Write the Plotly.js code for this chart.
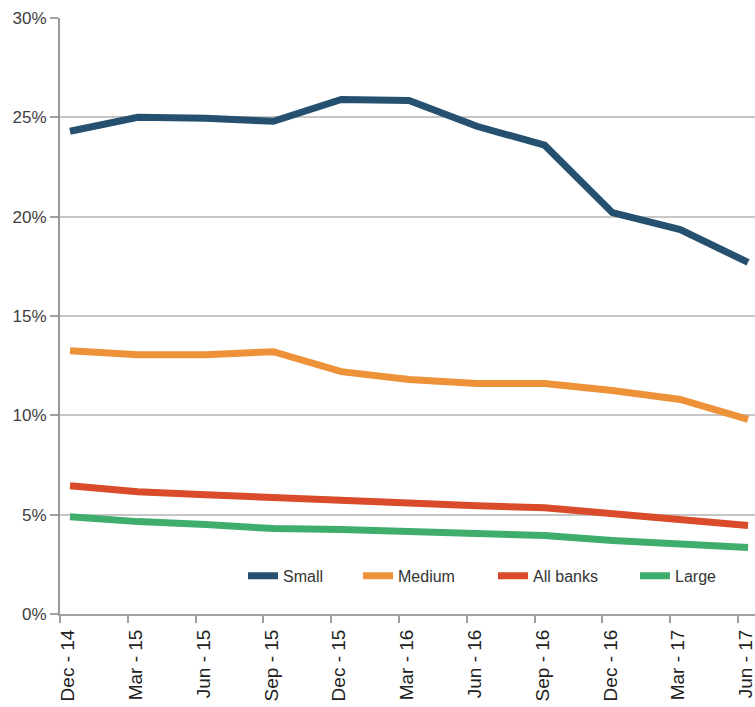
<!DOCTYPE html>
<html>
<head>
<meta charset="utf-8">
<script src="https://cdn.plot.ly/plotly-3.0.1.min.js"></script>
<style>html,body{margin:0;padding:0;background:#fff;}#chart{width:755px;height:707px;}</style>
</head>
<body>
<div id="chart"></div>
<script>
var categories = ["Dec - 14","Mar - 15","Jun - 15","Sep - 15","Dec - 15","Mar - 16","Jun - 16","Sep - 16","Dec - 16","Mar - 17","Jun - 17"];
var small    = [24.3, 25.0, 24.95, 24.8, 25.9, 25.85, 24.55, 23.6, 20.2, 19.35, 17.7];
var medium   = [13.25, 13.05, 13.05, 13.2, 12.2, 11.8, 11.6, 11.6, 11.25, 10.8, 9.8];
var allBanks = [6.45, 6.15, 6.0, 5.85, 5.7, 5.6, 5.45, 5.35, 5.05, 4.8, 4.45];
var large    = [4.9, 4.65, 4.5, 4.3, 4.25, 4.15, 4.0, 3.95, 3.7, 3.5, 3.35];
var yTickVals = [0, 5, 10, 15, 20, 25, 30];
var yTickText = ["0%","5%","10%","15%","20%","25%","30%"];

var idx = categories.map(function(_, i){ return i; });
var font = "Liberation Sans, Arial, sans-serif";

function tr(name, ys, color, leg){
  return {x: idx, y: ys, name: name, type: "scatter", mode: "lines", legend: leg,
          line: {color: color, width: 7}, hoverinfo: "skip"};
}
var traces = [
  tr("Small", small, "#25506f", "legend"),
  tr("Medium", medium, "#ee9239", "legend2"),
  tr("All banks", allBanks, "#d94b2a", "legend3"),
  tr("Large", large, "#3fae6d", "legend4"),
  {x: [0], y: [0], xaxis: "x2", mode: "markers", marker: {opacity: 0}, showlegend: false, hoverinfo: "skip"}
];

function leg(xpx){
  return {orientation: "h", x: (xpx - 60) / 695, xanchor: "left", y: 0.064, yanchor: "middle",
          font: {family: font, size: 16, color: "#333"}, bgcolor: "rgba(0,0,0,0)"};
}

var off = 0.1475;
var xr = [-off, 10.103];
var layout = {
  width: 755, height: 707,
  margin: {l: 60, r: 0, t: 18, b: 93},
  paper_bgcolor: "#fff", plot_bgcolor: "#fff",
  font: {family: font, color: "#404040", size: 17},
  showlegend: true,
  legend: leg(243), legend2: leg(358), legend3: leg(493), legend4: leg(635),
  xaxis: {
    range: xr, tickvals: idx, ticktext: categories, tickangle: -90,
    ticks: "", showgrid: false, zeroline: false, ticklabeloverflow: "allow",
    ticklabelstandoff: 6, ticklabelshift: -2,
    showline: true, linecolor: "#a0a0a0", linewidth: 2,
    tickfont: {family: font, size: 19, color: "#222"}, fixedrange: true
  },
  xaxis2: {
    overlaying: "x", anchor: "y", side: "bottom", range: xr,
    tickvals: idx.map(function(i){ return i - off; }), showticklabels: false,
    ticks: "outside", ticklen: 8, tickwidth: 2, tickcolor: "#a0a0a0",
    showgrid: false, zeroline: false, showline: false
  },
  yaxis: {
    range: [0, 30], tickvals: yTickVals, ticktext: yTickText,
    ticks: "outside", ticklen: 8, tickwidth: 2, tickcolor: "#a0a0a0",
    showgrid: true, gridcolor: "#c6c6c6", gridwidth: 2, zeroline: false,
    showline: true, linecolor: "#999", linewidth: 2,
    tickfont: {family: font, size: 17, color: "#404040"}, fixedrange: true
  }
};
Plotly.newPlot("chart", traces, layout, {displayModeBar: false, staticPlot: true});
</script>
</body>
</html>
